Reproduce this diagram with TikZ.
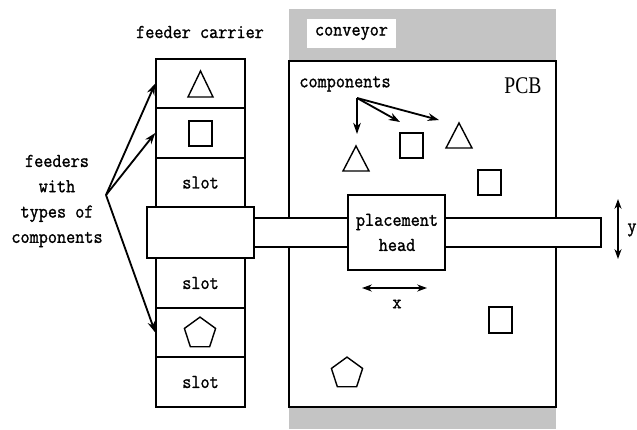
\documentclass[tikz,border=0pt]{standalone}
\usepackage{fontspec}
\newfontfamily\pcbfont{Liberation Serif}[FakeStretch=0.82]
\newfontfamily\lblfont{Latin Modern Mono}[FakeBold=1.2,FakeStretch=0.9]
\usetikzlibrary{arrows.meta,fit,shapes.geometric}
\definecolor{convgrey}{RGB}{196,196,196}
\begin{document}
\begin{tikzpicture}[x=0.025cm,y=-0.025cm,line width=1.1pt,
  box/.style={draw,fill=white,inner sep=0pt},
  lbl/.style={inner sep=0pt,font=\lblfont\fontsize{14}{18}\selectfont},
  arr/.style={-{Stealth[length=8pt,width=5.5pt]},line width=1.3pt},
  dbl/.style={{Stealth[length=7pt,width=5pt]}-{Stealth[length=7pt,width=5pt]},line width=1.4pt},
  part/.style={draw,line width=1pt},
  penta/.style={draw,line width=1pt,regular polygon,regular polygon sides=5,minimum size=0.82cm,inner sep=0pt}]
\useasboundingbox (0,0) rectangle (637,429);

% conveyor strips and board
\fill[convgrey] (289,9) rectangle (556,61);
\fill[convgrey] (289,407) rectangle (556,429);
\node[lbl,fill=white,minimum width=2.225cm,minimum height=0.725cm] (conv) at (351.5,33.5) {conveyor};
\node[box,fit={(289,61)(556,407)}] (pcb) {};
\node[inner sep=0pt] (pcbl) at (523,86) {\pcbfont\fontsize{17}{17}\selectfont PCB};

% gantry rail and placement head
\node[box,fit={(254,218)(601,247)}] (rail) {};
\node[box,fit={(348,195)(445,270)}] (head) {};
\node[lbl] (hl1) at (397,222) {placement};
\node[lbl] (hl2) at (397,245) {head};

% feeder carrier
\node[lbl] (fc) at (200,32) {feeder carrier};
\node[box,fit={(156,59)(245,108)}] (s1) {};
\node[box,fit={(156,108)(245,158)}] (s2) {};
\node[box,fit={(156,158)(245,207)}] (s3) {};
\node[box,fit={(156,258)(245,308)}] (s4) {};
\node[box,fit={(156,308)(245,357)}] (s5) {};
\node[box,fit={(156,357)(245,407)}] (s6) {};
\node[box,fit={(147,207)(254,258)}] (wide) {};
\node[lbl] at (s3.center) {slot};
\node[lbl] at (s4.center) {slot};
\node[lbl] at (s6.center) {slot};

% components in the feeders
\draw[part] (188,97) -- (213,97) -- (200.5,71) -- cycle;
\draw[part] (189,121) rectangle (212,146);
\node[penta] (p1) at (200,333.5) {};

% components on the board
\draw[part] (343,171) -- (369,171) -- (356,146) -- cycle;
\draw[part] (400,133) rectangle (423,158);
\draw[part] (446,148) -- (472,148) -- (459,123) -- cycle;
\draw[part] (478,170) rectangle (501,195);
\draw[part] (489,307) rectangle (512,333);
\node[penta] (p2) at (347,373.5) {};

% feeder labels and arrows
\node[lbl,align=center] (feed) at (57,201) {feeders\\with\\types of\\components};
\coordinate (fo) at (106,195);
\draw[arr] (fo) -- (s1.west);
\draw[arr] (fo) -- (s2.west);
\draw[arr] (fo) -- (s5.west);

% component labels and arrows
\node[lbl] (comp) at (345,84) {components};
\coordinate (co) at (357,98);
\coordinate (ca) at (357,134);
\coordinate (cb) at (400,122);
\coordinate (cc) at (439,120);
\draw[arr] (co) -- (ca);
\draw[arr] (co) -- (cb);
\draw[arr] (co) -- (cc);

% axes of motion
\coordinate (xl) at (362,288);
\coordinate (xr) at (427,288);
\draw[dbl] (xl) -- (xr);
\node[lbl] (xlab) at (397,304) {x};
\coordinate (yt) at (618,199);
\coordinate (yb) at (618,259);
\draw[dbl] (yt) -- (yb);
\node[lbl] (ylab) at (632,230) {y};
\end{tikzpicture}
\end{document}
